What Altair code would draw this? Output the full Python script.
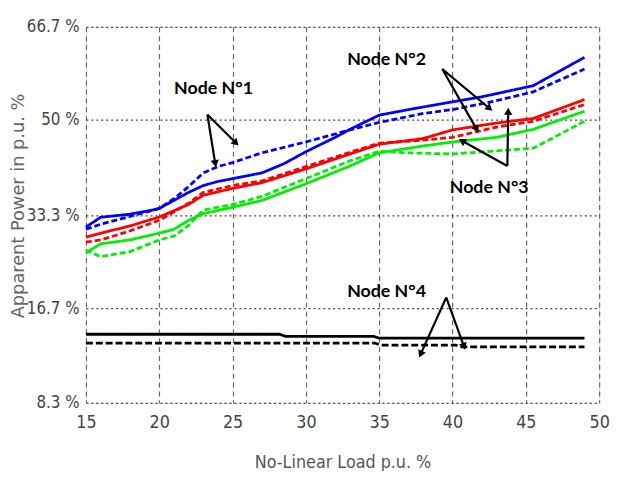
import altair as alt
import pandas as pd
import numpy as np

# ---------------- data ----------------
y_ticks = [8.3, 16.7, 33.3, 50, 66.7]
y_tick_px = [381, 285, 191, 94, 0]
x_ticks = [15, 20, 25, 30, 35, 40, 45, 50]

n1s_x = [15, 16, 18, 19.5, 20, 21, 22, 23, 24, 25, 27, 28.5, 30, 32, 33, 35, 37, 40, 42, 45.5, 49]
n1s_y = [31.2, 32.95, 33.5, 34.2, 34.5, 35.9, 37.3, 38.5, 39.2, 39.7, 40.7, 42.3, 44.4, 46.9, 48.3, 50.8, 51.8, 53.2, 54.1, 56.1, 61.2]

n1d_x = [15, 16, 18, 20, 21, 22, 23, 24, 25, 27, 30, 33, 35, 38, 40, 43, 45.5, 49]
n1d_y = [30.8, 31.7, 33.1, 34.5, 36.2, 38.3, 40.7, 41.8, 42.5, 44.2, 46.1, 48.2, 49.5, 51.1, 51.8, 53.4, 55.0, 59.1]

n2s_x = [15, 16, 18, 20, 22, 23, 25, 27, 30, 33, 35, 38, 40, 43, 45.5, 49]
n2s_y = [29.4, 30.1, 31.4, 33.0, 35.2, 36.8, 38.0, 39.0, 41.4, 44.0, 45.7, 46.7, 48.2, 49.4, 50.2, 53.6]

n2d_x = [15, 16, 18, 20, 22, 23, 25, 27, 30, 33, 35, 38, 40, 43, 45.5, 49]
n2d_y = [28.5, 28.9, 30.5, 32.4, 35.4, 37.3, 38.5, 39.3, 41.8, 44.3, 45.9, 46.4, 46.9, 48.7, 49.7, 52.7]

n3s_x = [15, 16, 18, 20, 21, 22, 23, 25, 27, 30, 33, 35, 38, 40, 43, 45.5, 49]
n3s_y = [26.6, 28.2, 28.9, 30.1, 30.8, 32.4, 33.6, 34.7, 35.9, 38.8, 41.9, 44.2, 45.4, 46.1, 46.9, 48.3, 51.5]

n3d_x = [15, 16, 18, 20, 21, 22, 23, 25, 27, 30, 33, 35, 37, 40, 45.5, 49]
n3d_y = [27.1, 25.9, 26.8, 28.9, 29.6, 31.5, 34.2, 35.2, 36.6, 39.7, 42.8, 44.5, 44.2, 44.0, 45.0, 49.7]

n4s_x = [15, 28.2, 28.6, 34.6, 35.0, 49]
n4s_y = [14.38, 14.38, 14.2, 14.2, 14.03, 14.03]

n4d_x = [15, 34.7, 35.1, 40.2, 40.6, 49]
n4d_y = [13.6, 13.6, 13.42, 13.42, 13.26, 13.26]

series_names = ["n1s", "n1d", "n2s", "n2d", "n3s", "n3d", "n4s", "n4d"]
series_colors = ["#0000ff", "#0000ff", "#ff0000", "#ff0000", "#00ee00", "#00ee00", "#000000", "#000000"]
series_dash = [[1, 0], [6, 3], [1, 0], [6, 3], [1, 0], [6, 3], [1, 0], [7, 3]]
series_width = [2.8, 2.8, 2.8, 2.8, 2.8, 2.8, 3.2, 3.2]

labels_text = ["Node N°1", "Node N°2", "Node N°3", "Node N°4"]
labels_x = [23.7, 35.5, 42.5, 35.5]
labels_y = [55.5, 60.7, 38.0, 19.5]

arrow_sx = [23.28, 23.28, 39.3, 39.3, 43.74, 43.74, 39.57, 39.57]
arrow_sy = [50.9, 50.9, 59.1, 59.1, 41.9, 41.9, 18.6, 18.6]
arrow_ex = [23.82, 25.23, 42.53, 41.65, 40.64, 43.8, 37.82, 40.78]
arrow_ey = [42.3, 45.9, 52.0, 48.3, 46.3, 51.5, 12.6, 13.3]

# ---------------- frames ----------------
all_xy = {
    "n1s": (n1s_x, n1s_y), "n1d": (n1d_x, n1d_y),
    "n2s": (n2s_x, n2s_y), "n2d": (n2d_x, n2d_y),
    "n3s": (n3s_x, n3s_y), "n3d": (n3d_x, n3d_y),
    "n4s": (n4s_x, n4s_y), "n4d": (n4d_x, n4d_y),
}
rows = []
for s in series_names:
    xs, ys = all_xy[s]
    for i, (a, b) in enumerate(zip(xs, ys)):
        rows.append({"series": s, "x": a, "y": b, "order": i})
df = pd.DataFrame(rows)

W, H = 520, 381
px_per_x = W / 35.0


def ypx(v):
    return np.interp(v, y_ticks, y_tick_px)


angles = []
for sx, sy, ex, ey in zip(arrow_sx, arrow_sy, arrow_ex, arrow_ey):
    dx = (ex - sx) * px_per_x
    dy = ypx(ey) - ypx(sy)
    angles.append(float(np.degrees(np.arctan2(dx, -dy)) % 360))

arrows = pd.DataFrame({"sx": arrow_sx, "sy": arrow_sy, "ex": arrow_ex, "ey": arrow_ey, "angle": angles})
labels = pd.DataFrame({"text": labels_text, "x": labels_x, "y": labels_y})

xscale = alt.Scale(domain=[15, 50], nice=False, zero=False)
yscale = alt.Scale(domain=y_ticks, range=y_tick_px, zero=False, nice=False)

lab_font = "DejaVu Sans Condensed, DejaVu Sans, sans-serif"

xaxis = alt.Axis(values=x_ticks, grid=True, gridDash=[5, 4], gridColor="#666", gridWidth=1.2,
                 gridOpacity=1, ticks=False, domain=False, labelFont=lab_font, labelFontSize=18,
                 labelColor="#444", labelPadding=11, title="No-Linear Load p.u. %",
                 titleFont=lab_font, titleFontSize=18, titleFontWeight="normal", titleColor="#555",
                 titleX=260, titleY=61, titleBaseline="middle", labelFlush=False)
yaxis = alt.Axis(values=y_ticks, grid=True, gridDash=[2, 3], gridColor="#444", gridWidth=1.2,
                 gridOpacity=1, ticks=False, domain=False, labelFont=lab_font, labelFontSize=17,
                 labelColor="#444", labelPadding=7, labelExpr="datum.value + ' %'",
                 title="Apparent Power in p.u. %", titleFont="DejaVu Sans", titleFontSize=18,
                 titleFontWeight="normal", titleColor="#666", titleX=-68, titleY=181,
                 titleBaseline="middle", titleAngle=270, labelFlush=False)

lines = alt.Chart(df).mark_line(strokeCap="butt").encode(
    x=alt.X("x:Q", scale=xscale, axis=xaxis),
    y=alt.Y("y:Q", scale=yscale, axis=yaxis),
    color=alt.Color("series:N", scale=alt.Scale(domain=series_names, range=series_colors), legend=None),
    strokeDash=alt.StrokeDash("series:N", scale=alt.Scale(domain=series_names, range=series_dash), legend=None),
    strokeWidth=alt.StrokeWidth("series:N", scale=alt.Scale(domain=series_names, range=series_width), legend=None),
    order="order:Q",
    detail="series:N",
)

arrow_lines = alt.Chart(arrows).mark_rule(color="black", strokeWidth=2.2).encode(
    x=alt.X("sx:Q", scale=xscale), y=alt.Y("sy:Q", scale=yscale),
    x2="ex:Q", y2="ey:Q",
)
arrow_heads = alt.Chart(arrows).mark_point(shape="triangle-up", filled=True, color="black", size=70, opacity=1).encode(
    x=alt.X("ex:Q", scale=xscale), y=alt.Y("ey:Q", scale=yscale),
    angle=alt.Angle("angle:Q", scale=None),
)
texts = alt.Chart(labels).mark_text(font="Lato", fontWeight="bold", fontSize=18, color="black").encode(
    x=alt.X("x:Q", scale=xscale), y=alt.Y("y:Q", scale=yscale), text="text:N",
)

chart = alt.layer(lines, arrow_lines, arrow_heads, texts).properties(
    width=W, height=H,
    autosize=alt.AutoSizeParams(type="none"),
    padding={"left": 79, "top": 16, "right": 11, "bottom": 66},
).configure_view(stroke="#333", strokeWidth=1.6).configure(background="white")

chart.save("out.html", embed_options={"renderer": "svg", "actions": False})
